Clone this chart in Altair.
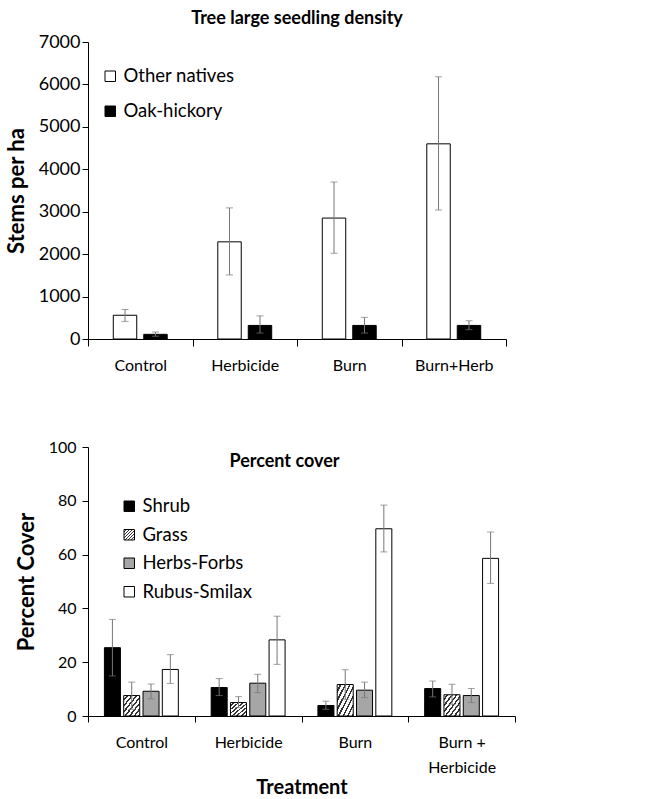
import altair as alt
import pandas as pd

# ---------------- data: top panel ----------------
treat_top = ["Control", "Herbicide", "Burn", "Burn+Herb"]
species_top = ["Other natives", "Oak-hickory"]
other_mean = [560, 2290, 2850, 4600]
other_lo = [415, 1510, 2020, 3040]
other_hi = [695, 3090, 3700, 6180]
oak_mean = [110, 320, 320, 320]
oak_lo = [65, 140, 140, 220]
oak_hi = [165, 545, 510, 430]

# ---------------- data: bottom panel ----------------
treat_bot = ["Control", "Herbicide", "Burn", "Burn + Herbicide"]
groups_bot = ["Shrub", "Grass", "Herbs-Forbs", "Rubus-Smilax"]
shrub_mean = [25.4, 10.6, 3.9, 10.2]
shrub_lo = [14.9, 7.6, 2.5, 7.1]
shrub_hi = [35.9, 13.9, 5.5, 13.0]
grass_mean = [7.6, 5.0, 11.7, 7.9]
grass_lo = [2.5, 3.1, 6.2, 4.3]
grass_hi = [12.6, 7.2, 17.2, 11.8]
herbs_mean = [9.2, 12.2, 9.6, 7.6]
herbs_lo = [6.4, 8.7, 6.8, 5.0]
herbs_hi = [11.9, 15.5, 12.6, 10.2]
rubus_mean = [17.3, 28.3, 69.6, 58.6]
rubus_lo = [12.1, 19.2, 61.0, 49.3]
rubus_hi = [22.8, 37.1, 78.4, 68.4]

top_rows = []
for sp, m, lo, hi in [("Other natives", other_mean, other_lo, other_hi),
                      ("Oak-hickory", oak_mean, oak_lo, oak_hi)]:
    for i, t in enumerate(treat_top):
        top_rows.append({"Treatment": t, "Species": sp, "Mean": m[i], "Low": lo[i], "High": hi[i]})
top_df = pd.DataFrame(top_rows)

bot_rows = []
for g, m, lo, hi in [("Shrub", shrub_mean, shrub_lo, shrub_hi),
                     ("Grass", grass_mean, grass_lo, grass_hi),
                     ("Herbs-Forbs", herbs_mean, herbs_lo, herbs_hi),
                     ("Rubus-Smilax", rubus_mean, rubus_lo, rubus_hi)]:
    for i, t in enumerate(treat_bot):
        bot_rows.append({"Treatment": t, "Group": g, "Mean": m[i], "Low": lo[i], "High": hi[i]})
bot_df = pd.DataFrame(bot_rows)

# ---------------- styles ----------------
FONT = "Lato"
ERR = "#777777"

# diagonal hatch as a striped linear gradient
n_str = 7
stops = []
for k in range(n_str):
    a = k / n_str
    b = (k + 0.6) / n_str
    c = (k + 1) / n_str
    stops.append("{offset: %.4f, color: '#ffffff'}" % a)
    stops.append("{offset: %.4f, color: '#ffffff'}" % b)
    stops.append("{offset: %.4f, color: '#333333'}" % b)
    stops.append("{offset: %.4f, color: '#333333'}" % c)
hatch_expr = "{gradient: 'linear', x1: 0, y1: 0, x2: 1, y2: 1, stops: [" + ", ".join(stops) + "]}"

# ---------------- top panel ----------------
x_top = alt.X("Treatment:N", title=None,
              scale=alt.Scale(domain=treat_top, paddingInner=0, paddingOuter=0),
              axis=alt.Axis(labelAngle=0, tickBand="extent", tickSize=7,
                            labelPadding=11, labelFontSize=16))
xo_top = alt.XOffset("Species:N",
                     scale=alt.Scale(domain=species_top, paddingInner=0.23, paddingOuter=0.83))
y_top = alt.Y("Mean:Q", title="Stems per ha",
              scale=alt.Scale(domain=[0, 7000]),
              axis=alt.Axis(values=[0, 1000, 2000, 3000, 4000, 5000, 6000, 7000], format="d",
                            tickSize=6, labelPadding=2, labelFontSize=18,
                            titleFontSize=22, titlePadding=10))

top_bars = alt.Chart(top_df).mark_bar(stroke="black", strokeWidth=1).encode(
    x=x_top, xOffset=xo_top, y=y_top,
    fill=alt.Fill("Species:N",
                  scale=alt.Scale(domain=species_top, range=["white", "black"]),
                  legend=alt.Legend(title=None, orient="none", legendX=13, legendY=25,
                                    symbolType="square", symbolSize=110,
                                    symbolStrokeColor="black", symbolStrokeWidth=1,
                                    symbolOpacity=1, labelFont=FONT, labelFontSize=18.5,
                                    labelColor="black", rowPadding=16, labelOffset=4))
)
top_rule = alt.Chart(top_df).mark_rule(color=ERR, strokeWidth=1).encode(
    x=x_top, xOffset=xo_top, y=alt.Y("Low:Q", title="Stems per ha"), y2="High:Q")
top_tlo = alt.Chart(top_df).mark_tick(color=ERR, size=7, thickness=1).encode(
    x=x_top, xOffset=xo_top, y=alt.Y("Low:Q", title="Stems per ha"))
top_thi = alt.Chart(top_df).mark_tick(color=ERR, size=7, thickness=1).encode(
    x=x_top, xOffset=xo_top, y=alt.Y("High:Q", title="Stems per ha"))

top = alt.layer(top_bars, top_rule, top_tlo, top_thi).properties(
    width=418, height=297,
    title=alt.Title("Tree large seedling density", font=FONT, fontSize=18,
                    fontWeight="bold", color="black", anchor="middle", offset=5))

# ---------------- bottom panel ----------------
x_bot = alt.X("Treatment:N", title="Treatment",
              scale=alt.Scale(domain=treat_bot, paddingInner=0, paddingOuter=0),
              axis=alt.Axis(labelAngle=0, tickBand="extent", tickSize=6,
                            labelPadding=12, labelFontSize=16, labelLineHeight=25,
                            labelExpr="datum.value == 'Burn + Herbicide' ? ['Burn +', 'Herbicide'] : datum.value",
                            titleFontSize=20, titlePadding=2))
xo_bot = alt.XOffset("Group:N",
                     scale=alt.Scale(domain=groups_bot, paddingInner=0.17, paddingOuter=0.85))
y_bot = alt.Y("Mean:Q", title="Percent Cover",
              scale=alt.Scale(domain=[0, 100]),
              axis=alt.Axis(values=[0, 20, 40, 60, 80, 100], tickSize=6,
                            labelPadding=6, labelFontSize=16,
                            titleFontSize=22, titlePadding=10))

bot_bars = alt.Chart(bot_df).mark_bar(stroke="black", strokeWidth=1).encode(
    x=x_bot, xOffset=xo_bot, y=y_bot,
    fill=alt.Fill("Group:N",
                  scale=alt.Scale(domain=groups_bot,
                                  range=["black", {"expr": hatch_expr}, "#a6a6a6", "white"]),
                  legend=alt.Legend(title=None, orient="none", legendX=32, legendY=50,
                                    symbolType="square", symbolSize=110,
                                    symbolStrokeColor="black", symbolStrokeWidth=1,
                                    symbolOpacity=1, labelFont=FONT, labelFontSize=18.5,
                                    labelColor="black", rowPadding=9.5, labelOffset=4))
)
bot_rule = alt.Chart(bot_df).mark_rule(color=ERR, strokeWidth=1).encode(
    x=x_bot, xOffset=xo_bot, y=alt.Y("Low:Q", title="Percent Cover"), y2="High:Q")
bot_tlo = alt.Chart(bot_df).mark_tick(color=ERR, size=7, thickness=1).encode(
    x=x_bot, xOffset=xo_bot, y=alt.Y("Low:Q", title="Percent Cover"))
bot_thi = alt.Chart(bot_df).mark_tick(color=ERR, size=7, thickness=1).encode(
    x=x_bot, xOffset=xo_bot, y=alt.Y("High:Q", title="Percent Cover"))

bottom = alt.layer(bot_bars, bot_rule, bot_tlo, bot_thi).properties(
    width=427, height=269,
    title=alt.Title("Percent cover", font=FONT, fontSize=18, fontWeight="bold",
                    color="black", anchor="middle", offset=-32, dx=-17))

chart = alt.vconcat(top, bottom, spacing=66).resolve_scale(
    fill="independent", xOffset="independent", x="independent", y="independent"
).configure_axis(
    labelFont=FONT, titleFont=FONT, labelColor="black", titleColor="black",
    titleFontWeight="bold", domainColor="black", tickColor="black",
    domainWidth=1, tickWidth=1, grid=False
).configure_view(strokeWidth=0).properties(
    background="white", padding={"top": 10, "left": 5, "right": 5, "bottom": 5})

chart.save("out.html", embed_options={"renderer": "svg", "actions": False})
